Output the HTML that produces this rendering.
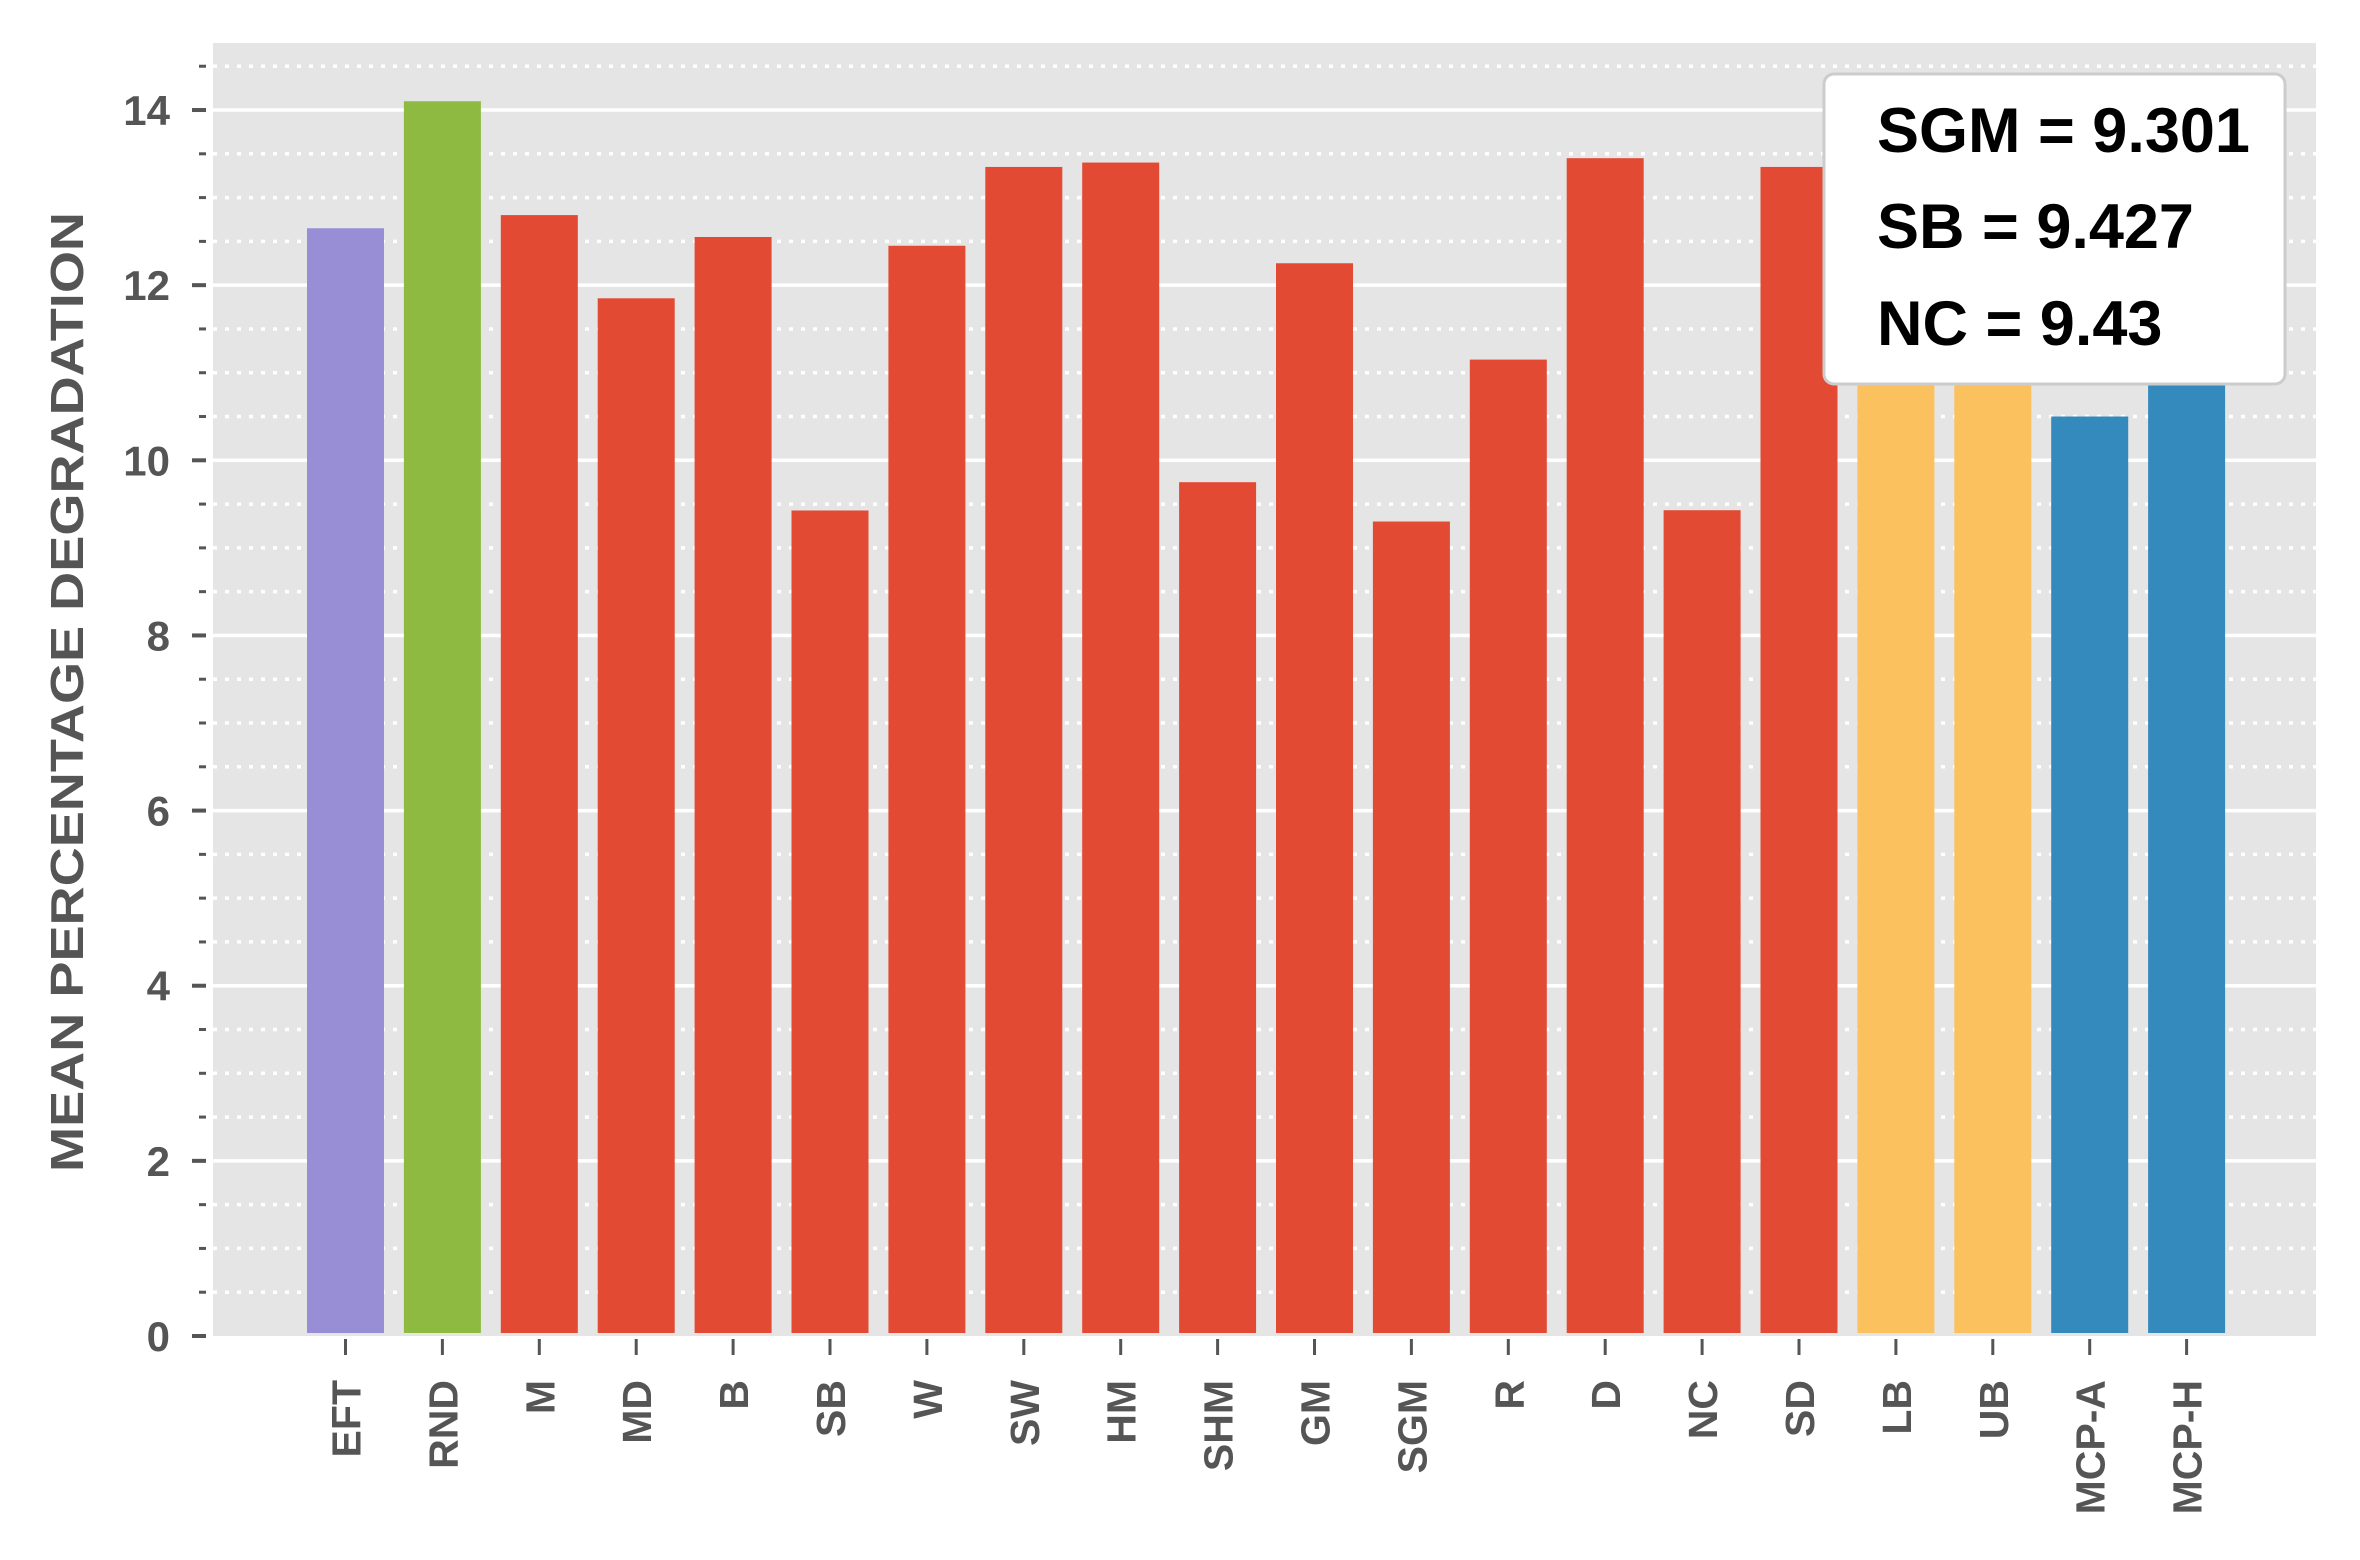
<!DOCTYPE html>
<html><head><meta charset="utf-8"><style>
html,body{margin:0;padding:0;background:#fff;}
svg{display:block;font-family:"Liberation Sans",sans-serif;}
</style></head><body>
<svg id="chart" width="2360" height="1560" viewBox="0 0 2360 1560">
<rect x="213" y="43" width="2103" height="1293" fill="#E5E5E5"/>
<g id="grid"></g>
<g id="bars"></g>
<g id="yaxis"></g>
<g id="xaxis"></g>
<text transform="translate(83,692) rotate(-90)" text-anchor="middle" font-size="46" font-weight="bold" fill="#555" textLength="960" lengthAdjust="spacingAndGlyphs">MEAN PERCENTAGE DEGRADATION</text>
<g>
<rect x="1824" y="74" width="461" height="310" rx="10" fill="#fff" stroke="#ccc" stroke-width="3"/>
<text x="1877" y="152" font-size="63" font-weight="bold" fill="#000">SGM = 9.301</text>
<text x="1877" y="248" font-size="63" font-weight="bold" fill="#000">SB = 9.427</text>
<text x="1877" y="345" font-size="63" font-weight="bold" fill="#000">NC = 9.43</text>
</g>
</svg>
<script>
const categories = ["EFT","RND","M","MD","B","SB","W","SW","HM","SHM","GM","SGM","R","D","NC","SD","LB","UB","MCP-A","MCP-H"];
const values = [12.65,14.1,12.8,11.85,12.55,9.427,12.45,13.35,13.4,9.75,12.25,9.301,11.15,13.45,9.43,13.35,12.0,11.9,10.5,11.4];
const groups = ["eft","rnd","h","h","h","h","h","h","h","h","h","h","h","h","h","h","bound","bound","mcp","mcp"];
const yTicks = [0,2,4,6,8,10,12,14];
const colorOf = {eft:"#988ED5",rnd:"#8EBA42",h:"#E24A33",bound:"#FBC15E",mcp:"#348ABD"};
const NS="http://www.w3.org/2000/svg";
const y0=1336, pxPerUnit=87.57;
function yScale(v){return y0 - v*pxPerUnit;}
const x0=345.5, step=96.9, bw=77;
function xScale(i){return x0 + i*step;}
function mk(tag,attrs,parent){const e=document.createElementNS(NS,tag);for(const k in attrs)e.setAttribute(k,attrs[k]);parent.appendChild(e);return e;}
const grid=document.getElementById('grid'), bars=document.getElementById('bars'), ya=document.getElementById('yaxis'), xa=document.getElementById('xaxis');
for(let v=0.5; v<14.8; v+=0.5){
  const y=yScale(v);
  if(Math.abs(v-Math.round(v/2)*2)<1e-6){continue;}
  const l=mk('line',{x1:213,x2:2316,y1:y,y2:y,stroke:"#fff","stroke-width":3.5,"stroke-dasharray":"4 8"},grid);
  
  
  const t=mk('line',{x1:199,x2:206,y1:y,y2:y,stroke:"#555","stroke-width":3},ya);
  
  
}
yTicks.forEach(v=>{
  const y=yScale(v);
  if(v>0){
    const l=mk('line',{x1:213,x2:2316,y1:y,y2:y,stroke:"#fff","stroke-width":3.5},grid);
    
    
  }
  const t=mk('line',{x1:192,x2:206,y1:y,y2:y,stroke:"#555","stroke-width":4},ya);
  
  
  const tx=mk('text',{x:170,y:y+15,"text-anchor":"end","font-size":42,"font-weight":"bold",fill:"#555"},ya);
  tx.textContent=v;
  
  
});
categories.forEach((c,i)=>{
  const cx=xScale(i), top=yScale(values[i]);
  const r=mk('rect',{x:cx-bw/2,y:top,width:bw,height:y0-3-top,fill:colorOf[groups[i]]},bars);
  
  
  const t=mk('line',{x1:cx,x2:cx,y1:1339,y2:1355,stroke:"#555","stroke-width":3},xa);
  
  
  const tx=mk('text',{transform:`translate(${cx+15},1380) rotate(-90)`,"text-anchor":"end","font-size":41,"font-weight":"bold",fill:"#555"},xa);
  tx.textContent=c;
  
  
});
</script>
</body></html>
